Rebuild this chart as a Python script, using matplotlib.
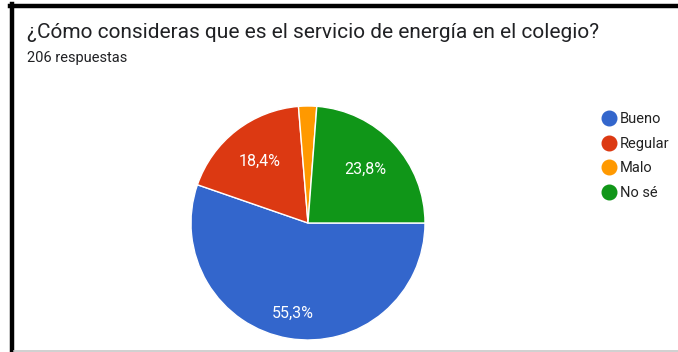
import matplotlib.pyplot as plt
import numpy as np
from matplotlib.lines import Line2D

plt.rcParams['font.family'] = ['Roboto', 'DejaVu Sans']

# survey answers (percent of 206 responses)
categories = ['Bueno', 'Regular', 'Malo', 'No sé']
percent = [55.3, 18.4, 2.5, 23.8]
colors = ['#3366cc', '#dc3912', '#ff9900', '#109618']

title = '¿Cómo consideras que es el servicio de energía en el colegio?'
subtitle = '206 respuestas'

W, H = 678, 352
fig = plt.figure(figsize=(W / 100, H / 100), dpi=100)
fig.patch.set_facecolor('white')


def fx(x):
    return x / W


def fy(y):
    return 1 - y / H


# frame lines of the screenshot card
fig.add_artist(Line2D([fx(10), 1], [fy(6), fy(6)], color='black', lw=3.2))
fig.add_artist(Line2D([fx(12), fx(12)], [fy(4), 0], color='black', lw=3.2))
fig.add_artist(Line2D([fx(14), 1], [fy(350.5), fy(350.5)], color='#c8c8c8', lw=1.2))

fig.text(fx(27), fy(33), title, fontsize=15, color='#202124', va='center')
fig.text(fx(27), fy(58), subtitle, fontsize=10.5, color='#202124', va='center')

# pie
cx, cy, r = 308, 223, 117
ax = fig.add_axes([fx(cx - r), fy(cy + r), 2 * r / W, 2 * r / H])
wedges, _ = ax.pie(percent, colors=colors, startangle=0, counterclock=False,
                   radius=1, wedgeprops=dict(edgecolor='white', linewidth=1))
ax.set_xlim(-1, 1)
ax.set_ylim(-1, 1)
ax.set_aspect('equal')
ax.axis('off')

for w, p in zip(wedges, percent):
    if p < 5:
        continue
    ang = np.deg2rad((w.theta1 + w.theta2) / 2)
    d = 0.78 if p > 50 else 0.67
    ax.text(d * np.cos(ang), d * np.sin(ang), f'{p:.1f}%'.replace('.', ','),
            ha='center', va='center', color='white', fontsize=11.5)

handles = [Line2D([], [], marker='o', linestyle='', markersize=10.5,
                  markerfacecolor=c, markeredgecolor=c) for c in colors]
fig.legend(handles, categories, loc='upper left', bbox_to_anchor=(fx(595), fy(105)),
           frameon=False, fontsize=10.5, handlelength=0.9, handletextpad=0.3,
           labelspacing=0.72, borderpad=0, labelcolor='#222222')

fig.savefig('out.png', dpi=100)
